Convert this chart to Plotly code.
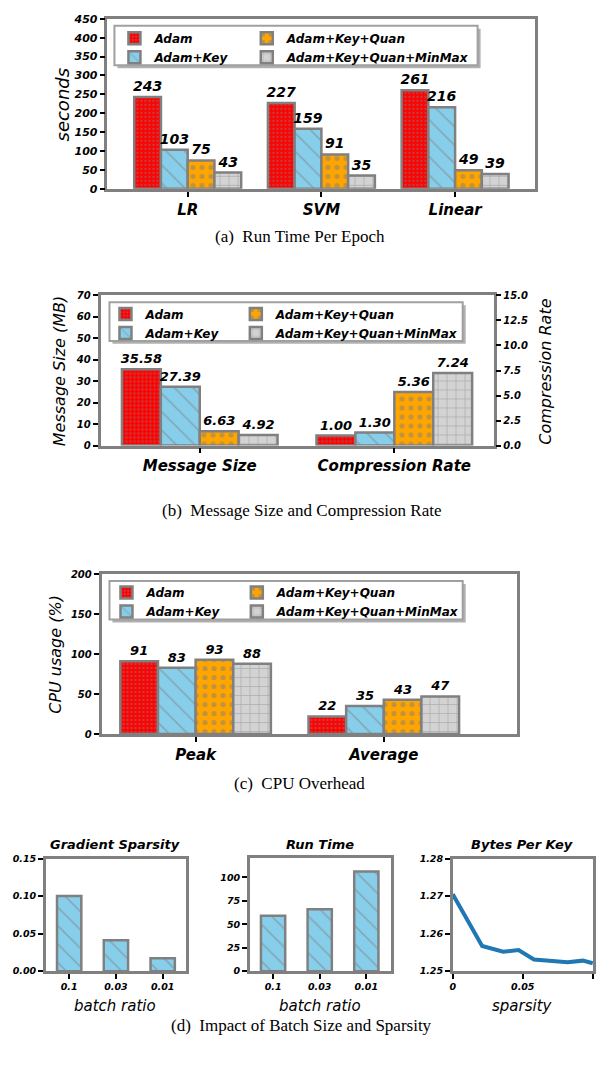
import plotly.graph_objects as go

# ---------------- data ----------------
series_names = ["Adam", "Adam+Key", "Adam+Key+Quan", "Adam+Key+Quan+MinMax"]
series_colors = ["#ff0000", "#87ceeb", "#ffa500", "#d3d3d3"]

runtime_cats = ["LR", "SVM", "Linear"]
runtime_adam = [243, 227, 261]
runtime_key = [103, 159, 216]
runtime_quan = [75, 91, 49]
runtime_minmax = [43, 35, 39]

msg_cats = ["Message Size", "Compression Rate"]
message_size = [35.58, 27.39, 6.63, 4.92]
compression_rate = [1.00, 1.30, 5.36, 7.24]

cpu_cats = ["Peak", "Average"]
cpu_peak = [91, 83, 93, 88]
cpu_average = [22, 35, 43, 47]

batch_ratio = ["0.1", "0.03", "0.01"]
gradient_sparsity = [0.100, 0.041, 0.017]
batch_run_time = [59, 66, 106]

sparsity = [0.0, 0.021, 0.036, 0.047, 0.058, 0.082, 0.093, 0.1]
bytes_per_key = [1.2705, 1.2567, 1.2552, 1.2556, 1.2531, 1.2524, 1.2528, 1.2521]

# ---------------- style ----------------
GRAY = "#808080"
SANS = "DejaVu Sans"
SERIF = "Liberation Serif"
W, H = 600, 1071


def px_x(v):
    return v / W


def px_y(v):
    return 1 - v / H


def bi(size, color="black"):
    return dict(family=SANS, size=size, weight="bold", style="italic", color=color)


patterns = [
    dict(shape=".", size=4, solidity=0.3, fgcolor=GRAY),
    dict(shape="\\", size=13, solidity=0.12, fgcolor=GRAY),
    dict(shape=".", size=9, solidity=0.25, fgcolor=GRAY),
    dict(shape="+", size=9, solidity=0.15, fgcolor=GRAY),
]

# each legend shows one column (two entries) of the 2-column legend box
legend_col = [0, 0, 1, 1]

fig = go.Figure()

runtime_series = [runtime_adam, runtime_key, runtime_quan, runtime_minmax]


def leg_name(panel, i):
    base = ["legend", "legend2", "legend3"][panel]
    if legend_col[i] == 0:
        return base
    return ["legend4", "legend5", "legend6"][panel]


# panel (a)
for i, name in enumerate(series_names):
    fig.add_trace(go.Bar(
        x=runtime_cats, y=runtime_series[i], name=name,
        offset=-0.4 + 0.2 * i, width=0.2,
        marker=dict(color=series_colors[i], pattern=patterns[i],
                    line=dict(color=GRAY, width=2.5)),
        texttemplate="%{y:d}", textposition="outside",
        textfont=bi(14), constraintext="none", cliponaxis=False,
        xaxis="x", yaxis="y", legend=leg_name(0, i),
    ))

# panel (b)
for i, name in enumerate(series_names):
    fig.add_trace(go.Bar(
        x=[msg_cats[0]], y=[message_size[i]], name=name,
        offset=-0.4 + 0.2 * i, width=0.2,
        marker=dict(color=series_colors[i], pattern=patterns[i],
                    line=dict(color=GRAY, width=2.5)),
        texttemplate="%{y:.2f}", textposition="outside",
        textfont=bi(13), constraintext="none", cliponaxis=False,
        xaxis="x2", yaxis="y2", legend=leg_name(1, i),
    ))
    fig.add_trace(go.Bar(
        x=[msg_cats[1]], y=[compression_rate[i]], name=name,
        offset=-0.4 + 0.2 * i, width=0.2,
        marker=dict(color=series_colors[i], pattern=patterns[i],
                    line=dict(color=GRAY, width=2.5)),
        texttemplate="%{y:.2f}", textposition="outside",
        textfont=bi(13), constraintext="none", cliponaxis=False,
        xaxis="x2", yaxis="y3", showlegend=False, legend=leg_name(1, i),
    ))

# panel (c)
for i, name in enumerate(series_names):
    fig.add_trace(go.Bar(
        x=cpu_cats, y=[cpu_peak[i], cpu_average[i]], name=name,
        offset=-0.4 + 0.2 * i, width=0.2,
        marker=dict(color=series_colors[i], pattern=patterns[i],
                    line=dict(color=GRAY, width=2.5)),
        texttemplate="%{y:d}", textposition="outside",
        textfont=bi(13), constraintext="none", cliponaxis=False,
        xaxis="x3", yaxis="y4", legend=leg_name(2, i),
    ))

# panel (d)
fig.add_trace(go.Bar(
    x=batch_ratio, y=gradient_sparsity, offset=-0.26, width=0.52,
    marker=dict(color="#87ceeb", pattern=dict(shape="\\", size=13, solidity=0.12, fgcolor=GRAY),
                line=dict(color=GRAY, width=2.5)),
    xaxis="x4", yaxis="y5", showlegend=False,
))
fig.add_trace(go.Bar(
    x=batch_ratio, y=batch_run_time, offset=-0.26, width=0.52,
    marker=dict(color="#87ceeb", pattern=dict(shape="\\", size=13, solidity=0.12, fgcolor=GRAY),
                line=dict(color=GRAY, width=2.5)),
    xaxis="x5", yaxis="y6", showlegend=False,
))
fig.add_trace(go.Scatter(
    x=sparsity, y=bytes_per_key, mode="lines",
    line=dict(color="#1f77b4", width=4),
    xaxis="x6", yaxis="y7", showlegend=False, cliponaxis=True,
))


def axis(domain, anchor, **kw):
    d = dict(domain=domain, anchor=anchor, showline=True, linecolor=GRAY,
             linewidth=2.5, mirror=True, ticks="outside", ticklen=5,
             tickwidth=1.5, tickcolor="black", showgrid=False, zeroline=False,
             fixedrange=True)
    d.update(kw)
    return d


layout = dict(
    width=W, height=H, margin=dict(l=0, r=0, t=0, b=0),
    paper_bgcolor="white", plot_bgcolor="white",
    barmode="overlay", showlegend=True,
    font=dict(family=SANS, color="black"),
)

# (a)
layout["xaxis"] = axis([px_x(105), px_x(535)], "y", type="category",
                       categoryorder="array", categoryarray=runtime_cats,
                       range=[-0.6, 2.6], tickfont=bi(15))
layout["yaxis"] = axis([px_y(185), px_y(13)], "x", range=[0, 450], dtick=50,
                       tickfont=bi(11))
layout["xaxis7"] = dict(overlaying="x", side="top", anchor="y", type="category",
                        categoryorder="array", categoryarray=runtime_cats,
                        range=[-0.6, 2.6], ticks="inside", ticklen=5, tickwidth=1.5,
                        tickcolor="black", showticklabels=False, showgrid=False,
                        zeroline=False, showline=False)
layout["yaxis8"] = dict(overlaying="y", side="right", anchor="x", range=[0, 450],
                        dtick=50, ticks="inside", ticklen=5, tickwidth=1.5,
                        tickcolor="black", showticklabels=False, showgrid=False,
                        zeroline=False, showline=False)

# (b)
layout["xaxis2"] = axis([px_x(98), px_x(493)], "y2", type="category",
                        categoryorder="array", categoryarray=msg_cats,
                        range=[-0.51, 1.51], tickfont=bi(15))
layout["yaxis2"] = axis([px_y(445), px_y(293)], "x2", range=[0, 70], dtick=10,
                        tickfont=bi(10))
layout["yaxis3"] = dict(overlaying="y2", side="right", anchor="x2", range=[0, 15],
                        dtick=2.5, tickformat=".1f", ticks="outside", ticklen=5,
                        tickwidth=1.5, tickcolor="black", tickfont=bi(10),
                        showgrid=False, zeroline=False, showline=True,
                        linecolor=GRAY, linewidth=2.5)

# (c)
layout["xaxis3"] = axis([px_x(99), px_x(517)], "y4", type="category",
                        categoryorder="array", categoryarray=cpu_cats,
                        range=[-0.5, 1.71], tickfont=bi(15))
layout["yaxis4"] = axis([px_y(737), px_y(575)], "x3", range=[0, 200], dtick=50,
                        tickfont=bi(10))

# (d)
layout["xaxis4"] = axis([px_x(43), px_x(184)], "y5", type="category",
                        range=[-0.5, 2.5], tickfont=bi(9.5))
layout["yaxis5"] = axis([px_y(977), px_y(863)], "x4", range=[0, 0.15], dtick=0.05,
                        tickformat=".2f", tickfont=bi(9.5))
layout["xaxis5"] = axis([px_x(248), px_x(390)], "y6", type="category",
                        range=[-0.5, 2.53], tickfont=bi(9.5))
layout["yaxis6"] = axis([px_y(977), px_y(862)], "x5", range=[0, 121], tickvals=[0, 25, 50, 75, 100],
                        tickfont=bi(9.5))
layout["xaxis6"] = axis([px_x(452), px_x(593)], "y7", range=[0, 0.1002],
                        tickvals=[0, 0.05, 0.1], ticktext=["0", "0.05", "0.1"],
                        tickfont=bi(9.5))
layout["yaxis7"] = axis([px_y(977), px_y(863)], "x6", range=[1.25, 1.28], dtick=0.01,
                        tickformat=".2f", tickfont=bi(9.5))


def legend_at(text_left, first_row_center):
    return dict(x=px_x(text_left - 40), y=px_y(first_row_center - 12),
                xanchor="left", yanchor="top", orientation="v",
                bgcolor="rgba(0,0,0,0)", borderwidth=0,
                font=bi(12), itemwidth=30, tracegroupgap=0)


# legend boxes (left, top, right, bottom) and text columns
legend_boxes = [(112, 20, 477, 60), (107, 300, 462, 339), (107, 582, 462, 621)]
legend_text_cols = [(152, 285), (143, 274), (144, 275)]
legend_rows = [30, 309, 591]

names1 = ["legend", "legend2", "legend3"]
names2 = ["legend4", "legend5", "legend6"]
for k in range(3):
    layout[names1[k]] = legend_at(legend_text_cols[k][0], legend_rows[k])
    layout[names2[k]] = legend_at(legend_text_cols[k][1], legend_rows[k])

shapes = []
for (l, t, r, b) in legend_boxes:
    shapes.append(dict(type="rect", xref="paper", yref="paper", layer="above",
                       x0=px_x(l + 3), x1=px_x(r + 3), y0=px_y(b + 3), y1=px_y(t + 3),
                       fillcolor="#b0b0b0", line=dict(width=0)))
    shapes.append(dict(type="rect", xref="paper", yref="paper", layer="above",
                       x0=px_x(l), x1=px_x(r), y0=px_y(b), y1=px_y(t),
                       fillcolor="white", line=dict(color="#a0a0a0", width=2)))
layout["shapes"] = shapes

fig.update_layout(**layout)


def note(text, x, y, size, font=None, angle=0):
    fig.add_annotation(text=text, xref="paper", yref="paper", x=px_x(x), y=px_y(y),
                       showarrow=False, textangle=angle, xanchor="center", yanchor="middle",
                       font=font or dict(family=SERIF, size=size, color="black"))


def ital(s):
    return dict(family=SANS, size=s, style="italic", color="black")


note("seconds", 60, 100, 18, font=ital(18), angle=-90)
note("Message Size (MB)", 57, 370, 16, font=ital(16), angle=-90)
note("Compression Rate", 545, 370, 16, font=ital(16), angle=-90)
note("CPU usage (%)", 52, 656, 16, font=ital(16), angle=-90)

note("(a)  Run Time Per Epoch", 298, 233, 17)
note("(b)  Message Size and Compression Rate", 300, 511, 17)
note("(c)  CPU Overhead", 298, 787, 17)
note("(d)  Impact of Batch Size and Sparsity", 300, 1032, 17)

note("Gradient Sparsity", 113, 849, 13, font=bi(13))
note("Run Time", 319, 849, 13, font=bi(13))
note("Bytes Per Key", 522, 849, 13, font=bi(13))
note("batch ratio", 113, 1012, 15, font=ital(15))
note("batch ratio", 319, 1012, 15, font=ital(15))
note("sparsity", 522, 1012, 15, font=ital(15))

fig.write_html("out.html", config={"displayModeBar": False},
               post_script="document.body.style.margin='0px';")
